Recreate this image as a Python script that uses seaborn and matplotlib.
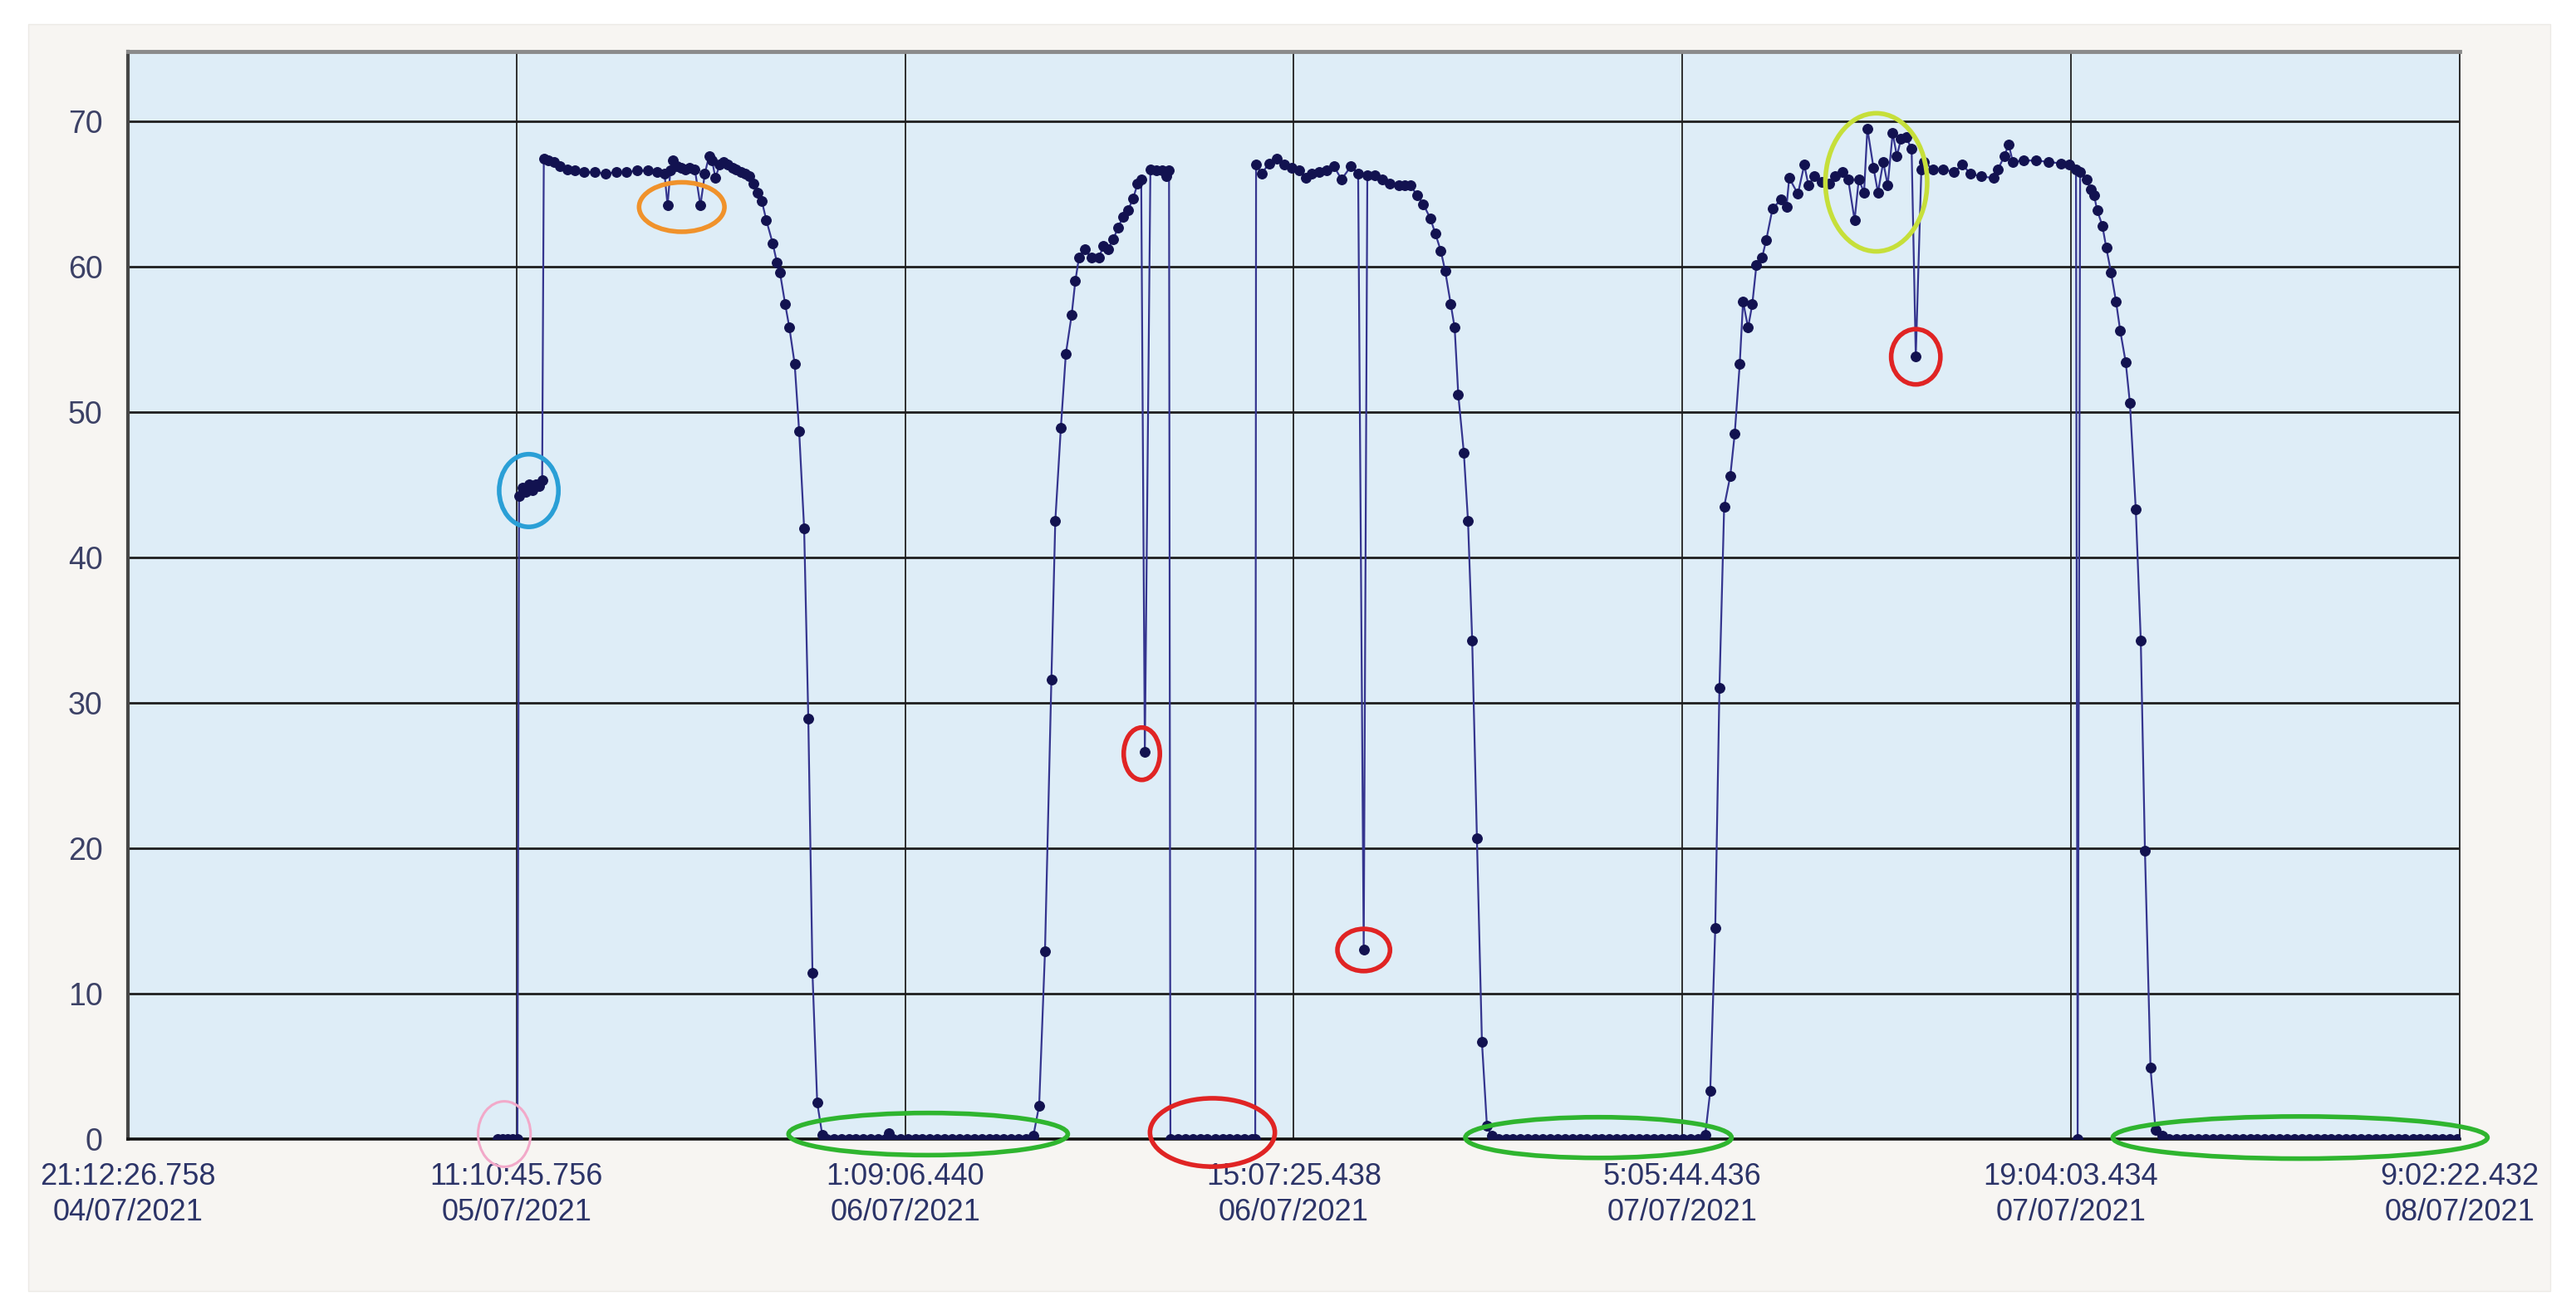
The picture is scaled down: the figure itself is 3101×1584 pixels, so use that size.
import pandas as pd
import matplotlib
matplotlib.use('Agg')
import matplotlib.pyplot as plt
from matplotlib.patches import Ellipse, Rectangle
from matplotlib.ticker import MultipleLocator
import seaborn as sns

sns.set_style('white')
plt.rcParams['font.family'] = ['Liberation Sans Narrow', 'Liberation Sans', 'DejaVu Sans']

# x axis ticks (time / date labels)
tick_times = ['21:12:26.758', '11:10:45.756', '1:09:06.440', '15:07:25.438',
              '5:05:44.436', '19:04:03.434', '9:02:22.432']
tick_dates = ['04/07/2021', '05/07/2021', '06/07/2021', '06/07/2021',
              '07/07/2021', '07/07/2021', '08/07/2021']

# readings: hours since 21:12:26.758 04/07/2021, and value
hours = [
    # off, then first start
    13.29, 13.47, 13.65, 13.82, 14.00,
    14.06, 14.18, 14.30, 14.42, 14.53, 14.65, 14.77, 14.89,
    # plateau 1
    14.95, 15.12, 15.33, 15.54, 15.79, 16.07, 16.39, 16.78, 17.16, 17.55,
    17.92, 18.31, 18.68, 19.02, 19.29, 19.40, 19.50, 19.60, 19.73, 19.90,
    20.03, 20.20, 20.38, 20.58, 20.74, 20.89, 21.00, 21.12, 21.27, 21.42,
    21.56, 21.73, 21.86, 22.04, 22.18, 22.34, 22.49, 22.64, 22.79, 22.95,
    23.18, 23.33, 23.44, 23.63, 23.78, 23.97, 24.13, 24.31, 24.46, 24.61,
    24.78, 24.96,
    # off 1
    25.11, 25.37, 25.64, 25.91, 26.17, 26.44, 26.70, 26.97, 27.24, 27.35,
    27.50, 27.77, 28.03, 28.30, 28.56, 28.83, 29.10, 29.36, 29.63, 29.89,
    30.16, 30.43, 30.69, 30.96, 31.22, 31.49, 31.75, 32.02, 32.29, 32.55,
    # rise 2
    32.76, 32.97, 33.20, 33.34, 33.54, 33.72, 33.93, 34.06, 34.19, 34.40,
    34.63, 34.90, 35.07, 35.23, 35.43, 35.60, 35.77, 35.96, 36.14, 36.30,
    36.43, 36.56, 36.76, 36.96, 37.17, 37.34, 37.43,
    # off 2
    37.48, 37.75, 38.02, 38.28, 38.55, 38.81, 39.08, 39.35, 39.61, 39.88,
    40.14, 40.41, 40.53,
    # plateau 2
    40.56, 40.76, 41.03, 41.30, 41.57, 41.83, 42.10, 42.36, 42.57, 42.83,
    43.10, 43.36, 43.63, 43.97, 44.23, 44.43, 44.56, 44.83, 45.10, 45.37,
    45.70, 45.90, 46.10, 46.36, 46.57, 46.83, 47.00, 47.20, 47.36, 47.56,
    47.70, 47.83, 48.03, 48.18, 48.33, 48.50, 48.68, 48.86, 49.03,
    # off 3
    49.27, 49.54, 49.80, 50.07, 50.33, 50.60, 50.87, 51.13, 51.40, 51.66,
    51.93, 52.20, 52.46, 52.73, 52.99, 53.26, 53.52, 53.79, 54.06, 54.32,
    54.59, 54.85, 55.12, 55.39, 55.65, 55.92, 56.18, 56.45, 56.71,
    # rise 3 / plateau 3
    56.89, 57.07, 57.22, 57.39, 57.61, 57.77, 57.95, 58.07, 58.25, 58.40,
    58.55, 58.75, 58.90, 59.13, 59.43, 59.63, 59.73, 60.04, 60.27, 60.42,
    60.64, 60.91, 61.17, 61.38, 61.63, 61.85, 62.08, 62.23, 62.42, 62.54,
    62.76, 62.92, 63.11, 63.27, 63.45, 63.60, 63.75, 63.93, 64.13, 64.28,
    64.48, 64.58, 64.89, 65.26, 65.65, 65.95, 66.25, 66.63, 67.08, 67.24,
    67.46, 67.62, 67.77, 68.15, 68.60, 69.06, 69.51, 69.81, 70.04, 70.10,
    70.19, 70.42, 70.57, 70.69, 70.80, 70.99, 71.13, 71.30, 71.48, 71.63,
    71.83, 71.98, 72.19, 72.37, 72.52, 72.72, 72.90, 73.14,
    # off 4
    73.37, 73.64, 73.91, 74.17, 74.44, 74.70, 74.97, 75.24, 75.50, 75.77,
    76.03, 76.30, 76.56, 76.83, 77.10, 77.36, 77.63, 77.89, 78.16, 78.43,
    78.69, 78.96, 79.22, 79.49, 79.75, 80.02, 80.29, 80.55, 80.82, 81.08,
    81.35, 81.62, 81.88, 82.15, 82.41, 82.68, 82.94, 83.21, 83.48, 83.74,
]
values = [
    0, 0, 0, 0, 0,
    44.2, 44.8, 44.5, 45.0, 44.6, 45.0, 44.9, 45.3,
    67.4, 67.3, 67.2, 66.9, 66.7, 66.6, 66.5, 66.5, 66.4, 66.5,
    66.5, 66.6, 66.6, 66.5, 66.4, 64.2, 66.6, 67.3, 66.9, 66.8,
    66.7, 66.8, 66.7, 64.2, 66.4, 67.6, 67.3, 66.1, 67.0, 67.2,
    67.0, 66.8, 66.7, 66.5, 66.4, 66.2, 65.7, 65.1, 64.5, 63.2,
    61.6, 60.3, 59.6, 57.4, 55.8, 53.3, 48.7, 42.0, 28.9, 11.4,
    2.5, 0.3,
    0, 0, 0, 0, 0, 0, 0, 0, 0, 0.4,
    0, 0, 0, 0, 0, 0, 0, 0, 0, 0,
    0, 0, 0, 0, 0, 0, 0, 0, 0, 0.2,
    2.3, 12.9, 31.6, 42.5, 48.9, 54.0, 56.7, 59.0, 60.6, 61.2,
    60.6, 60.6, 61.4, 61.2, 61.9, 62.7, 63.4, 63.9, 64.7, 65.7,
    66.0, 26.6, 66.7, 66.6, 66.6, 66.2, 66.6,
    0, 0, 0, 0, 0, 0, 0, 0, 0, 0,
    0, 0, 0,
    67.0, 66.4, 67.1, 67.4, 67.0, 66.8, 66.6, 66.1, 66.4, 66.5,
    66.6, 66.9, 66.0, 66.9, 66.4, 13.0, 66.3, 66.3, 66.0, 65.7,
    65.6, 65.6, 65.6, 64.9, 64.3, 63.3, 62.3, 61.1, 59.7, 57.4,
    55.8, 51.2, 47.2, 42.5, 34.3, 20.7, 6.7, 0.9, 0.2,
    0, 0, 0, 0, 0, 0, 0, 0, 0, 0,
    0, 0, 0, 0, 0, 0, 0, 0, 0, 0,
    0, 0, 0, 0, 0, 0, 0, 0, 0.3,
    3.3, 14.5, 31.0, 43.5, 45.6, 48.5, 53.3, 57.6, 55.8, 57.4,
    60.1, 60.6, 61.8, 64.0, 64.6, 64.1, 66.1, 65.0, 67.0, 65.6,
    66.2, 65.8, 65.7, 66.2, 66.5, 66.0, 63.2, 66.0, 65.1, 69.5,
    66.8, 65.1, 67.2, 65.6, 69.2, 67.6, 68.8, 68.9, 68.1, 53.8,
    66.7, 67.2, 66.7, 66.7, 66.5, 67.0, 66.4, 66.2, 66.1, 66.7,
    67.6, 68.4, 67.2, 67.3, 67.3, 67.2, 67.1, 67.0, 66.7, 0,
    66.5, 66.0, 65.3, 64.9, 63.9, 62.8, 61.3, 59.6, 57.6, 55.6,
    53.4, 50.6, 43.3, 34.3, 19.8, 4.9, 0.6, 0.2,
    0, 0, 0, 0, 0, 0, 0, 0, 0, 0,
    0, 0, 0, 0, 0, 0, 0, 0, 0, 0,
    0, 0, 0, 0, 0, 0, 0, 0, 0, 0,
    0, 0, 0, 0, 0, 0, 0, 0, 0, 0,
]

# hand-drawn highlight ellipses: (hours, value, width h, height, colour)
marks_x = [13.53, 14.41, 19.91, 62.86, 36.45, 44.43, 64.28, 38.99, 28.77, 52.87, 78.10]
marks_y = [0.34, 44.6, 64.1, 65.8, 26.5, 13.0, 53.8, 0.45, 0.34, 0.1, 0.1]
marks_w = [1.89, 2.13, 3.07, 3.66, 1.30, 1.89, 1.77, 4.49, 10.04, 9.57, 13.47]
marks_h = [4.5, 5.0, 3.4, 9.5, 3.6, 2.9, 3.8, 4.7, 2.9, 2.8, 2.9]
marks_c = ['#f2a9c9', '#2a9fd6', '#f0922b', '#c6df3a', '#e02424', '#e02424',
           '#e02424', '#e02424', '#2fb52f', '#2fb52f', '#2fb52f']

stamps = pd.to_datetime([d + ' ' + t for t, d in zip(tick_times, tick_dates)],
                        format='%d/%m/%Y %H:%M:%S.%f')
tick_pos = [(s - stamps[0]).total_seconds() / 3600 for s in stamps]
tick_labels = [t + '\n' + d for t, d in zip(tick_times, tick_dates)]

df = pd.DataFrame({'hours': hours, 'value': values})

fig = plt.figure(figsize=(31.01, 15.84), dpi=100, facecolor='white')
fig.patches.append(Rectangle((0.011, 0.019), 0.979, 0.963, transform=fig.transFigure,
                             facecolor='#f7f5f2', edgecolor='#eceae6', lw=1, zorder=-10))
ax = fig.add_axes([0.0497, 0.1345, 0.9051, 0.8264])
ax.set_facecolor('#deedf7')

sns.lineplot(data=df, x='hours', y='value', ax=ax, estimator=None, sort=False,
             color='#35358f', lw=1.6, marker='o', markersize=8.5,
             markerfacecolor='#121250', markeredgecolor='#121250', zorder=3)

for x, y, w, h, c in zip(marks_x, marks_y, marks_w, marks_h, marks_c):
    lw = 2.2 if c == '#f2a9c9' else 4
    ax.add_patch(Ellipse((x, y), w, h, fill=False, edgecolor=c, lw=lw,
                         clip_on=False, zorder=4))

ax.set_xlim(0, tick_pos[-1])
ax.set_ylim(0, 74.8)
ax.set_xticks(tick_pos)
ax.set_xticklabels(tick_labels, linespacing=1.3)
ax.set_yticks(range(0, 80, 10))
ax.yaxis.set_minor_locator(MultipleLocator(2))
ax.set_xlabel('')
ax.set_ylabel('')

ax.set_axisbelow(True)
ax.grid(axis='y', color='#1e1e1e', lw=2.0)
ax.grid(axis='x', color='#2e2e2e', lw=1.4)

ax.spines['left'].set_color('#454545')
ax.spines['left'].set_linewidth(3)
ax.spines['bottom'].set_color('#111111')
ax.spines['bottom'].set_linewidth(2.6)
ax.spines['top'].set_color('#8a8a8a')
ax.spines['top'].set_linewidth(3.5)
ax.spines['right'].set_color('#2e2e2e')
ax.spines['right'].set_linewidth(1.4)

ax.tick_params(axis='y', which='major', length=15, width=2, color='#1e1e1e',
               labelsize=27, labelcolor='#3c4166', pad=7)
ax.tick_params(axis='y', which='minor', direction='in', length=9, width=1.5,
               color='#b4bcc8')
ax.tick_params(axis='x', which='major', length=14, width=1.4, color='#2e2e2e',
               labelsize=26, labelcolor='#2c3468', pad=6)

plt.savefig('out.png', dpi=100, facecolor='white')
plt.close()
